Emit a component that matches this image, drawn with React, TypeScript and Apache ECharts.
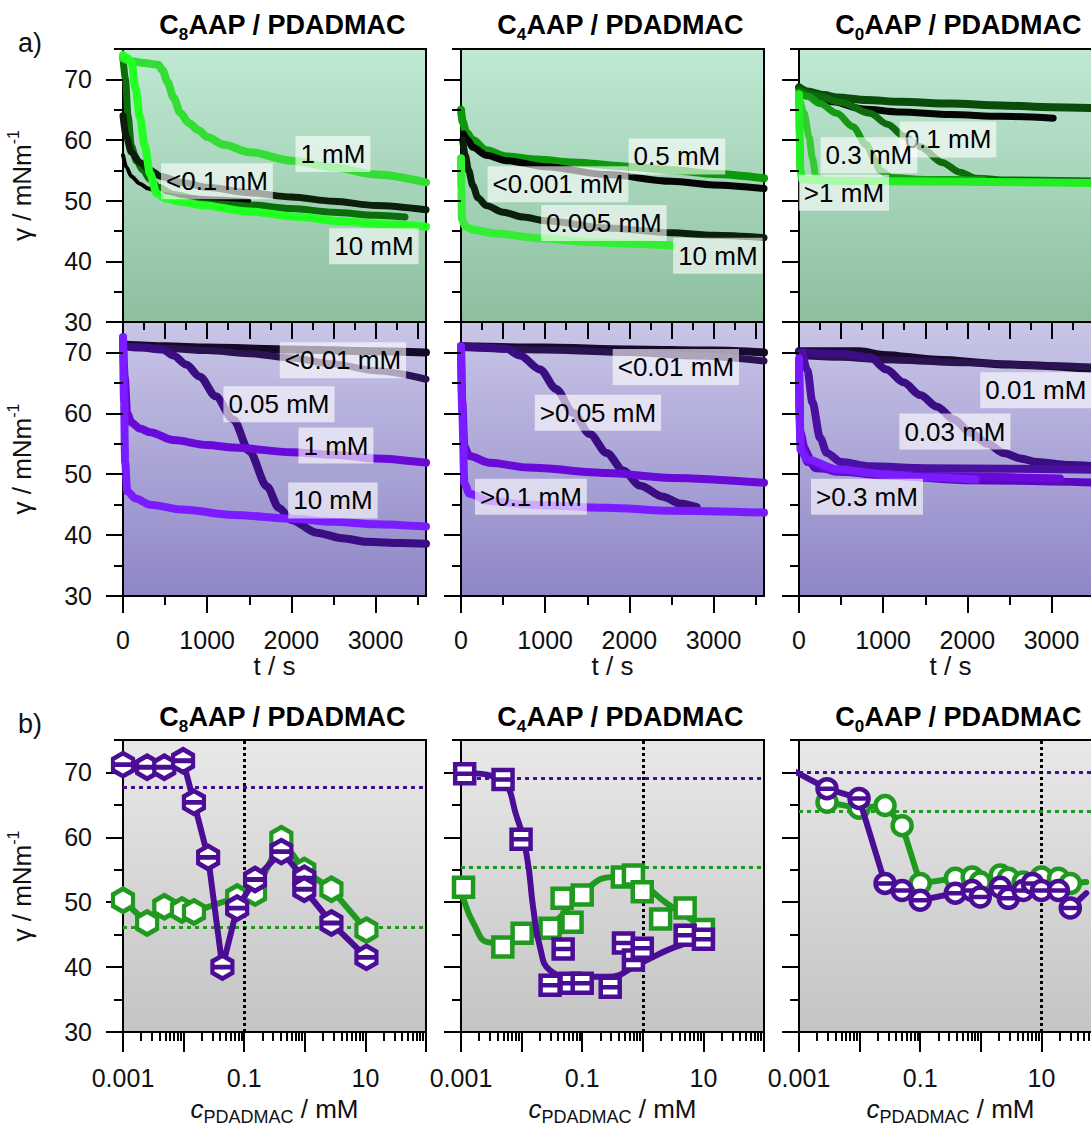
import React, { useEffect, useRef } from 'react';
import * as echarts from 'echarts';

const FONT = "'Liberation Sans', Arial, Helvetica, sans-serif";
const PURPLE = '#4b0c96';
const GREEN = '#1f9a1f';

// ---------- a) time-dependent surface tension, [t / s, gamma / mN m-1] ----------
// C8AAP / PDADMAC (green)
const c8gDark = [[0,64],[40,60.5],[100,58],[200,56.3],[320,55],[450,54],[700,53],[1000,52.2],[1500,51.3],[2000,50.6],[2500,49.9],[3000,49.2],[3600,48.5]];
const c8gBlack = [[0,57.5],[40,55.5],[100,54],[200,52.8],[300,52],[450,51.2],[700,50.7],[1000,50.4],[1500,50]];
const c8gMid = [[0,73.5],[30,70],[60,64],[100,59],[160,56.5],[240,55],[320,53.5],[420,52.2],[600,51],[900,50.2],[1500,49.3],[2000,48.7],[2500,48.1],[3000,47.6],[3350,47.3]];
const c8g1mM = [[0,73.5],[100,73],[250,72.7],[420,72.4],[470,71.5],[530,69.5],[600,67],[680,64.5],[780,62.8],[900,61.6],[1000,60.5],[1200,59.2],[1500,58],[2000,56.6],[2500,55.5],[3000,54.3],[3600,53]];
const c8g10mM = [[0,74],[50,73.5],[100,72.8],[150,68.5],[200,63.8],[260,59],[320,54.5],[400,51.2],[500,50.4],[700,49.8],[915,49.3],[1500,48.2],[2100,47.3],[2600,46.6],[3100,46.1],[3600,45.7]];
// C4AAP / PDADMAC (green)
const c4g05mM = [[0,65],[20,63],[60,61.3],[140,60],[300,58.3],[540,57.3],[900,56.8],[1330,56.3],[2000,55.6],[2520,55],[3000,54.4],[3600,53.7]];
const c4gLow = [[30,61],[80,60],[140,58.8],[300,57.5],[540,56.6],[1000,55.6],[1730,54.3],[2500,53.2],[3000,52.6],[3600,52]];
const c4g0005mM = [[20,60],[50,57.5],[90,55],[140,52.5],[200,50.5],[300,49.2],[500,48.1],[740,47.3],[1000,46.7],[1730,45.5],[2500,44.7],[3000,44.3],[3600,43.9]];
const c4g10mM = [[0,57],[5,52],[10,47],[50,45.8],[140,45.2],[400,44.6],[940,43.8],[1500,43.2],[2000,42.9],[2500,42.6]];
// C0AAP / PDADMAC (green)
const c0gFlat = [[0,68.7],[100,68],[300,67.4],[450,67],[800,66.6],[1200,66.3],[1800,66],[2400,65.7],[3000,65.4],[3600,65.2]];
const c0gBlack = [[100,67.6],[400,66.3],[760,65.1],[1200,64.6],[1800,64.2],[2400,63.9],[3020,63.6]];
const c0g01mM = [[0,68.2],[200,67.3],[500,66.2],[845,64.4],[1050,62.6],[1250,60.6],[1440,58.9],[1700,56.3],[1910,54.7],[2100,53.7],[2500,53.4],[3600,53.2]];
const c0g03mM = [[0,67.8],[100,67.2],[250,66],[450,64.4],[640,62.2],[800,59.2],[900,56.8],[960,55],[1100,53.8],[1500,53.5],[2200,53.4]];
const c0g1mMa = [[0,67.5],[8,61],[15,55],[40,53.5],[300,53.3],[1000,53.2],[2000,53.1],[3600,52.9]];
const c0g1mMb = [[0,67.2],[60,64.5],[120,60.5],[160,57],[200,54],[280,53.4]];
// C8AAP / PDADMAC (purple)
const c8pLowA = [[0,71.3],[500,71],[1000,70.8],[2000,70.5],[3000,70.2],[3600,70]];
const c8pLowB = [[0,71],[500,70.7],[1000,70.3],[1500,69.8],[2000,69.1],[2500,68.1],[3000,67],[3600,65.6]];
const c8p005mM = [[0,71],[200,70.8],[470,70.5],[600,69.5],[750,68],[915,66],[1100,62.8],[1310,59],[1500,53.8],[1710,48],[1850,44.5],[2000,42.5],[2300,40.4],[2600,39.5],[2900,38.9],[3300,38.7],[3600,38.6]];
const c8p1mM = [[0,72.5],[20,66],[50,60],[100,58.5],[200,57.5],[320,56.9],[600,55.6],[1000,54.8],[1310,54.4],[2000,53.6],[2500,53.2],[3000,52.6],[3600,51.9]];
const c8p10mM = [[0,72.5],[12,62],[25,52],[50,47.2],[150,46],[320,45],[700,44.2],[1310,43.3],[2000,42.7],[2500,42.2],[3000,41.8],[3600,41.4]];
// C4AAP / PDADMAC (purple)
const c4pLowA = [[0,71],[1000,70.8],[2000,70.5],[3000,70.3],[3600,70]];
const c4pLowB = [[0,70.8],[1000,70.4],[2000,70],[2800,69.4],[3600,68.6]];
const c4p005mM = [[0,71],[300,70.8],[540,70.6],[700,69.5],[940,67.2],[1130,64],[1330,60.1],[1530,56.6],[1730,53.5],[1930,50.6],[2130,48.1],[2400,46.3],[2600,45.2],[2800,44.6]];
const c4p01mMa = [[0,71],[15,62],[40,54.5],[100,53],[340,51.9],[800,51.1],[1730,50.2],[2500,49.4],[3600,48.6]];
const c4p01mMb = [[0,71],[15,60],[40,48.5],[100,46.8],[340,45.6],[800,45],[1730,44.5],[2500,44],[3600,43.7]];
// C0AAP / PDADMAC (purple)
const c0pLowA = [[0,70.2],[725,70.2],[1000,69.6],[1640,68.8],[2500,68],[3600,67.2]];
const c0pLowB = [[100,69.4],[500,69.2],[1000,68.8],[2000,68.3],[3000,67.8],[3600,67.5]];
const c0p003mM = [[0,70],[500,69.8],[845,69.2],[1040,67.2],[1240,65.1],[1440,63],[1640,61.1],[1840,59],[2040,56.8],[2240,55],[2430,53.5],[2630,52.6],[2830,52],[3200,51.5],[3600,51.2]];
const c0p03mMa = [[40,70],[100,67],[160,61.8],[250,56],[330,53.5],[500,52],[845,51.3],[1500,51],[2500,50.9],[3600,50.7]];
const c0p03mMb = [[0,69],[8,60],[18,54],[100,52.4],[450,50.8],[1000,50],[1500,49.5],[2100,49.1]];
const c0p03mMc = [[0,68],[12,57],[100,52],[450,50.4],[1500,49.7],[3100,49.3]];
const c0p03mMd = [[0,68],[20,55],[200,51],[1000,49.8],[2000,49],[3600,48.6]];

// curve annotations: [text, t, gamma]
const c8gLabels = [['1 mM', 2494, 57.7], ['<0.1 mM', 1116, 53.2], ['10 mM', 2981, 42.5]];
const c4gLabels = [['0.5 mM', 2565, 57.3], ['<0.001 mM', 1152, 52.7], ['0.005 mM', 1698, 46.3], ['10 mM', 3052, 40.9]];
const c0gLabels = [['0.1 mM', 1770, 60.1], ['0.3 mM', 831, 57.5], ['>1 mM', 534, 51.3]];
const c8pLabels = [['<0.01 mM', 2613, 68.7], ['0.05 mM', 1853, 61.5], ['1 mM', 2530, 54.7], ['10 mM', 2494, 45.7]];
const c4pLabels = [['<0.01 mM', 2553, 67.6], ['>0.05 mM', 1627, 60.1], ['>0.1 mM', 831, 46.3]];
const c0pLabels = [['0.01 mM', 2814, 63.8], ['0.03 mM', 1853, 57.0], ['>0.3 mM', 808, 46.3]];

// ---------- b) equilibrium surface tension vs c_PDADMAC ----------
const c8PurpleC = [0.001, 0.0025, 0.0048, 0.0098, 0.0148, 0.0254, 0.0437, 0.0766, 0.151, 0.41, 0.98, 0.98, 2.75, 10.4];
const c8PurpleG = [71.2, 70.8, 70.8, 71.8, 65.4, 56.9, 40.0, 49.1, 53.5, 57.8, 53.7, 52.0, 46.8, 41.5];
const c8GreenC = [0.001, 0.0025, 0.0048, 0.0094, 0.0148, 0.0766, 0.151, 0.41, 0.98, 2.75, 10.4];
const c8GreenG = [50.3, 46.8, 49.3, 48.8, 48.5, 50.8, 51.4, 59.8, 54.9, 52.0, 45.7];

const c4PurpleC = [0.00115, 0.00494, 0.0098, 0.0295, 0.0485, 0.063, 0.1, 0.29, 0.48, 0.7, 0.98, 5.0, 10];
const c4PurpleG = [69.8, 68.9, 59.7, 37.2, 42.8, 37.5, 37.5, 36.9, 43.7, 41.1, 42.9, 44.9, 44.3];
const c4PurpleFitC = [0.0008, 0.001, 0.0044, 0.0084, 0.0123, 0.0155, 0.0202, 0.0295, 0.071, 0.26, 0.91, 3.2, 11.5];
const c4PurpleFitG = [70.4, 70.2, 68.8, 63, 56.9, 49.2, 43, 39.5, 38.5, 38.5, 40.6, 43, 44.6];
const c4GreenC = [0.0011, 0.0049, 0.0102, 0.0295, 0.0466, 0.068, 0.1, 0.46, 0.7, 0.98, 1.97, 5.0, 10];
const c4GreenG = [52.3, 43.1, 45.2, 46.0, 50.6, 46.9, 51.1, 53.9, 54.2, 51.6, 47.4, 49.1, 45.8];
const c4GreenFitC = [0.0008, 0.001, 0.0016, 0.003, 0.0057, 0.0155, 0.038, 0.1, 0.33, 0.91, 2.5, 8.9, 12];
const c4GreenFitG = [53.5, 51.5, 46.8, 43.8, 43.8, 44.9, 47.2, 51.4, 53.9, 52.9, 49.8, 46.4, 45.5];

const c0PurpleC = [0.0029, 0.0098, 0.0263, 0.0503, 0.1, 0.38, 0.72, 0.98, 2.1, 2.85, 5.0, 7.1, 10, 19.1, 30];
const c0PurpleG = [67.5, 66, 52.9, 51.8, 50.3, 51.4, 51.8, 50.8, 52.3, 50.6, 51.8, 52.9, 51.8, 51.8, 49.1];
const c0PurpleLineC = [0.0008, ...c0PurpleC, 55];
const c0PurpleLineG = [70.3, ...c0PurpleG, 51.4];
const c0GreenC = [0.0029, 0.0098, 0.0263, 0.0503, 0.1, 0.38, 0.72, 0.98, 2.1, 2.85, 5.0, 10, 19.1, 30];
const c0GreenG = [65.4, 64.5, 64.9, 61.8, 52.9, 53.7, 53.9, 53.1, 54.2, 53.7, 53.1, 53.9, 53.7, 52.9];
const c0GreenLineC = [...c0GreenC, 55];
const c0GreenLineG = [...c0GreenG, 53.1];

// reference levels: [purple gamma, green gamma, vertical c]
const c8Refs = [67.7, 46.2, 0.1];
const c4Refs = [69.1, 55.4, 1];
const c0Refs = [70, 64, 10];

// axis ticks
const Y_MAJOR = [30, 40, 50, 60, 70];
const Y_MINOR = [35, 45, 55, 65, 75];
const T_MAJOR = [0, 1000, 2000, 3000];
const T_MINOR = [500, 1500, 2500, 3500];
const T_TOP_LONG = [500, 1000, 1500, 2000, 2500, 3000, 3500];
const T_TOP_SHORT = [250, 750, 1250, 1750, 2250, 2750, 3250];
const LOG_MAJOR = [-3, -2, -1, 0, 1, 2];
const LOG_LABELS: Record<string, string> = { '-3': '0.001', '-1': '0.1', '1': '10' };

const PANEL_TITLES = ['8', '4', '0'];

const HEX = 'path://M0,-1L0.866,-0.5L0.866,0.5L0,1L-0.866,0.5L-0.866,-0.5Z';
const HEX_BAR = HEX + 'M-0.866,0L0.866,0';
const SQ = 'path://M-1,-1L1,-1L1,1L-1,1Z';
const SQ_BAR = SQ + 'M-1,0L1,0';
const CIR = 'path://M-1,0A1,1,0,1,1,1,0A1,1,0,1,1,-1,0Z';
const CIR_BAR = CIR + 'M-1,0L1,0';

function buildOption() {
  const LEFTS = [123, 461, 799];
  const PW = 303;
  const ROWS = [{ top: 49, h: 273 }, { top: 322, h: 274 }, { top: 740, h: 292 }];
  const BG = [['#bfe9d3', '#8dbf9f'], ['#c9c6e8', '#8e86c6'], ['#e8e8e8', '#c4c4c4']];
  const tickLine = { color: '#000', width: 2 };
  const lbl = { fontSize: 25, color: '#111', fontFamily: FONT };

  const grid: any[] = [];
  const xAxis: any[] = [];
  const yAxis: any[] = [];
  const series: any[] = [];
  const idx: { x: number; y: number }[] = [];

  const base = (extra: any) => Object.assign({
    type: 'value', axisLine: { show: false, onZero: false }, splitLine: { show: false },
    axisLabel: { show: false }, axisTick: { show: false }, z: 3,
  }, extra);

  for (let r = 0; r < 3; r++) {
    for (let c = 0; c < 3; c++) {
      const gi = r * 3 + c;
      grid.push({
        left: LEFTS[c], top: ROWS[r].top, width: PW, height: ROWS[r].h,
        show: true, borderColor: '#000', borderWidth: 2, containLabel: false, outerBoundsMode: 'none',
        backgroundColor: new echarts.graphic.LinearGradient(0, 0, 0, 1, [
          { offset: 0, color: BG[r][0] }, { offset: 1, color: BG[r][1] },
        ]),
      });
      const yi = yAxis.length;
      yAxis.push(base({
        gridIndex: gi, min: 30, max: 75, position: 'left',
        axisTick: { show: true, inside: false, length: 17, lineStyle: tickLine, customValues: Y_MAJOR },
        axisLabel: c === 0 ? { show: true, customValues: Y_MAJOR, margin: 31, ...lbl } : { show: false },
        name: c === 0 ? 'γ / mNm{s|-1}' : '',
        nameLocation: 'middle', nameGap: 84, nameRotate: 90,
        nameTextStyle: {
          fontSize: 26, color: '#111', fontFamily: FONT, lineHeight: 34,
          rich: { s: { fontSize: 16, color: '#111', fontFamily: FONT, verticalAlign: 'top' } },
        },
      }));
      yAxis.push(base({
        gridIndex: gi, min: 30, max: 75, position: 'left',
        axisTick: { show: true, inside: false, length: 9, lineStyle: tickLine, customValues: Y_MINOR },
      }));
      const xi = xAxis.length;
      const tFmt = (v: number) => String(Math.round(v));
      if (r === 0) {
        xAxis.push(base({ gridIndex: gi, min: 0, max: 3600, position: 'bottom' }));
      } else if (r === 1) {
        xAxis.push(base({
          gridIndex: gi, min: 0, max: 3600, position: 'bottom',
          axisTick: { show: true, inside: false, length: 17, lineStyle: tickLine, customValues: T_MAJOR },
          axisLabel: { show: true, customValues: T_MAJOR, margin: 31, formatter: tFmt, ...lbl },
          name: 't / s', nameLocation: 'middle', nameGap: 56,
          nameTextStyle: { fontSize: 26, color: '#111', fontFamily: FONT },
        }));
        xAxis.push(base({
          gridIndex: gi, min: 0, max: 3600, position: 'bottom',
          axisTick: { show: true, inside: false, length: 9, lineStyle: tickLine, customValues: T_MINOR },
        }));
        xAxis.push(base({
          gridIndex: gi, min: 0, max: 3600, position: 'top',
          axisTick: { show: true, inside: true, length: 17, lineStyle: tickLine, customValues: T_TOP_LONG },
        }));
        xAxis.push(base({
          gridIndex: gi, min: 0, max: 3600, position: 'top',
          axisTick: { show: true, inside: true, length: 8, lineStyle: tickLine, customValues: T_TOP_SHORT },
        }));
      } else {
        const minor: number[] = [];
        for (let n = -3; n <= 1; n++) for (let k = 2; k <= 9; k++) minor.push(n + Math.log10(k));
        xAxis.push(base({
          gridIndex: gi, min: -3, max: 2, position: 'bottom',
          axisTick: { show: true, inside: false, length: 20, lineStyle: tickLine, customValues: LOG_MAJOR },
          axisLabel: {
            show: true, customValues: [-3, -1, 1], margin: 33, ...lbl,
            formatter: (v: number) => LOG_LABELS[String(Math.round(v))] || '',
          },
          name: '{i|c}{sub|PDADMAC} / mM', nameLocation: 'middle', nameGap: 60,
          nameTextStyle: {
            fontSize: 26, color: '#111', fontFamily: FONT, lineHeight: 34,
            rich: {
              i: { fontSize: 26, fontStyle: 'italic', color: '#111', fontFamily: FONT, lineHeight: 34 },
              sub: { fontSize: 18, color: '#111', fontFamily: FONT, verticalAlign: 'bottom' },
            },
          },
        }));
        xAxis.push(base({
          gridIndex: gi, min: -3, max: 2, position: 'bottom',
          axisTick: { show: true, inside: false, length: 9, lineStyle: tickLine, customValues: minor },
        }));
      }
      idx.push({ x: xi, y: yi });
    }
  }

  const curve = (gi: number, data: number[][], color: string, width: number) => ({
    type: 'line', xAxisIndex: idx[gi].x, yAxisIndex: idx[gi].y, data,
    showSymbol: false, symbol: 'none', smooth: 0.3, smoothMonotone: 'x', silent: true, z: 2,
    lineStyle: { color, width: width + 1, cap: 'round', join: 'round' },
  });
  const labels = (gi: number, items: any[]) => ({
    type: 'scatter', xAxisIndex: idx[gi].x, yAxisIndex: idx[gi].y, symbolSize: 1, silent: true, z: 6,
    itemStyle: { color: 'rgba(0,0,0,0)', opacity: 1 },
    data: items.map((l) => ({ name: l[0], value: [l[1], l[2]] })),
    label: {
      show: true, position: 'inside', formatter: '{b}', fontSize: 26, fontFamily: FONT, color: '#000', opacity: 1,
      textBorderWidth: 0, backgroundColor: 'rgba(255,255,255,0.62)', padding: [3, 5, 2, 5], lineHeight: 31,
    },
  });

  series.push(
    curve(0, c8gMid, '#0b6e0b', 6), curve(0, c8gDark, '#0b1f0b', 6), curve(0, c8gBlack, '#000', 3),
    curve(0, c8g1mM, '#33dd33', 7), curve(0, c8g10mM, '#22ff22', 7), labels(0, c8gLabels),
    curve(1, c4g05mM, '#0c990c', 7), curve(1, c4gLow, '#050505', 6), curve(1, c4g0005mM, '#0a200a', 6),
    curve(1, c4g10mM, '#33ee33', 7), labels(1, c4gLabels),
    curve(2, c0gFlat, '#0a4d0a', 7), curve(2, c0gBlack, '#050505', 6), curve(2, c0g01mM, '#0d6b0d', 6),
    curve(2, c0g03mM, '#139913', 6), curve(2, c0g1mMb, '#33cc33', 6), curve(2, c0g1mMa, '#22ee22', 7),
    labels(2, c0gLabels),
  );
  series.push(
    curve(3, c8pLowA, '#150a26', 7), curve(3, c8pLowB, '#2b1352', 6), curve(3, c8p005mM, '#3b0d82', 7),
    curve(3, c8p1mM, '#6a0ad8', 7), curve(3, c8p10mM, '#7a1cff', 7), labels(3, c8pLabels),
    curve(4, c4pLowA, '#170a2c', 7), curve(4, c4pLowB, '#2b1352', 6), curve(4, c4p005mM, '#3b0d82', 7),
    curve(4, c4p01mMa, '#6a0ad8', 7), curve(4, c4p01mMb, '#7a1cff', 7), labels(4, c4pLabels),
    curve(5, c0pLowA, '#170a2c', 7), curve(5, c0pLowB, '#2b1352', 6), curve(5, c0p003mM, '#3b0d82', 7),
    curve(5, c0p03mMd, '#5a08c0', 7), curve(5, c0p03mMc, '#6a0ad8', 7), curve(5, c0p03mMa, '#4b10a2', 7),
    curve(5, c0p03mMb, '#7a1cff', 7), labels(5, c0pLabels),
  );

  const pts = (cs: number[], gs: number[]) => cs.map((cv, i) => [Math.log10(cv), gs[i]]);
  const bLine = (gi: number, cs: number[], gs: number[], color: string, smooth: number, z: number) => ({
    type: 'line', xAxisIndex: idx[gi].x, yAxisIndex: idx[gi].y, data: pts(cs, gs),
    showSymbol: false, symbol: 'none', smooth, silent: true, z,
    lineStyle: { color, width: 6, cap: 'round', join: 'round' },
  });
  const bMarks = (gi: number, cs: number[], gs: number[], color: string, symbol: string, size: any, z: number) => ({
    type: 'scatter', xAxisIndex: idx[gi].x, yAxisIndex: idx[gi].y, data: pts(cs, gs),
    symbol, symbolSize: size, silent: true, z,
    itemStyle: { color: '#fff', borderColor: color, borderWidth: 4.5, opacity: 1 },
  });
  const refs = (gi: number, rv: number[]) => ({
    type: 'line', xAxisIndex: idx[gi].x, yAxisIndex: idx[gi].y, data: [], silent: true, z: 1,
    markLine: {
      silent: true, symbol: ['none', 'none'], z: 1, label: { show: false }, animation: false,
      data: [
        { yAxis: rv[0], lineStyle: { color: PURPLE, width: 3, type: [4, 4] } },
        { yAxis: rv[1], lineStyle: { color: GREEN, width: 3, type: [4, 4] } },
        { xAxis: Math.log10(rv[2]), lineStyle: { color: '#000', width: 3, type: [3, 3] } },
      ],
    },
  });
  const HS = [20, 23];
  series.push(
    refs(6, c8Refs),
    bLine(6, c8GreenC, c8GreenG, GREEN, 0, 2), bMarks(6, c8GreenC, c8GreenG, GREEN, HEX, HS, 3),
    bLine(6, c8PurpleC, c8PurpleG, PURPLE, 0, 4), bMarks(6, c8PurpleC, c8PurpleG, PURPLE, HEX_BAR, HS, 5),
    refs(7, c4Refs),
    bLine(7, c4GreenFitC, c4GreenFitG, GREEN, 0.5, 2), bMarks(7, c4GreenC, c4GreenG, GREEN, SQ, 19, 3),
    bLine(7, c4PurpleFitC, c4PurpleFitG, PURPLE, 0.5, 4), bMarks(7, c4PurpleC, c4PurpleG, PURPLE, SQ_BAR, 19, 5),
    refs(8, c0Refs),
    bLine(8, c0GreenLineC, c0GreenLineG, GREEN, 0, 2), bMarks(8, c0GreenC, c0GreenG, GREEN, CIR, 19, 3),
    bLine(8, c0PurpleLineC, c0PurpleLineG, PURPLE, 0, 4), bMarks(8, c0PurpleC, c0PurpleG, PURPLE, CIR_BAR, 19, 5),
  );

  const titleRich = {
    b: { fontSize: 27, fontWeight: 'bold', fontFamily: FONT, fill: '#000', color: '#000', lineHeight: 36 },
    s: { fontSize: 17, fontWeight: 'bold', fontFamily: FONT, fill: '#000', color: '#000', verticalAlign: 'bottom' },
  };
  const graphic: any[] = [];
  [25, 717].forEach((ty) => {
    PANEL_TITLES.forEach((n, c) => {
      graphic.push({
        type: 'text', x: LEFTS[c] + PW / 2 + 8, y: ty, z: 10,
        style: { text: `{b|C}{s|${n}}{b|AAP / PDADMAC}`, rich: titleRich, align: 'center', verticalAlign: 'middle' },
      });
    });
  });
  graphic.push(
    { type: 'text', x: 30, y: 43, style: { text: 'a)', fontSize: 27, fontFamily: FONT, fill: '#111', align: 'center', verticalAlign: 'middle' } },
    { type: 'text', x: 30, y: 724, style: { text: 'b)', fontSize: 27, fontFamily: FONT, fill: '#111', align: 'center', verticalAlign: 'middle' } },
  );

  return { animation: false, backgroundColor: '#fff', grid, xAxis, yAxis, series, graphic };
}

export default function App() {
  const ref = useRef<HTMLDivElement>(null);
  useEffect(() => {
    document.body.style.margin = '0';
    document.body.style.overflow = 'hidden';
    const chart = echarts.init(ref.current as HTMLDivElement, null, { renderer: 'svg' });
    chart.setOption(buildOption() as any);
    return () => chart.dispose();
  }, []);
  return <div ref={ref} style={{ width: 1091, height: 1126 }} />;
}
